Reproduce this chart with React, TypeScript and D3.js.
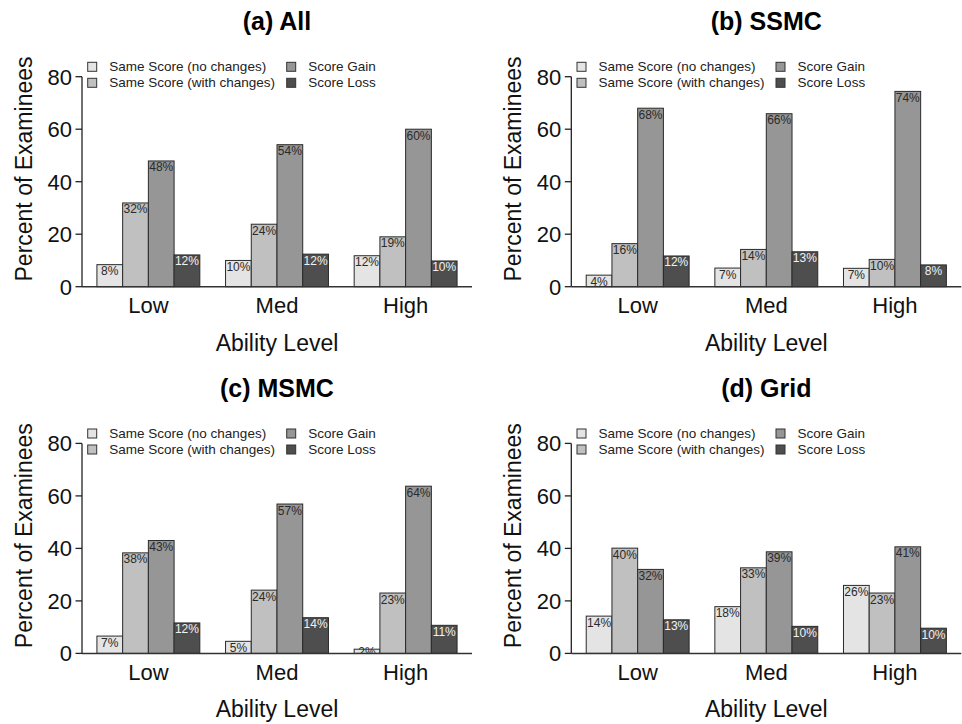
import React from "react";
import * as d3 from "d3";

const categories = ["Low", "Med", "High"];
const seriesKeys = ["noChanges", "withChanges", "gain", "loss"];
const seriesNames = [
  "Same Score (no changes)",
  "Same Score (with changes)",
  "Score Gain",
  "Score Loss",
];
const seriesColors = ["#e4e4e4", "#c0c0c0", "#969696", "#4e4e4e"];
const labelColors = ["#2a2a2a", "#2a2a2a", "#2a2a2a", "#f2f2f2"];
const yTicks = [0, 20, 40, 60, 80];

// (a) All
const allNoChanges = [8.4, 10.0, 11.8];
const allWithChanges = [31.9, 23.8, 19.0];
const allGain = [47.9, 54.1, 60.0];
const allLoss = [12.1, 12.4, 9.8];
// (b) SSMC
const ssmcNoChanges = [4.4, 7.1, 7.0];
const ssmcWithChanges = [16.4, 14.2, 10.4];
const ssmcGain = [68.0, 65.9, 74.4];
const ssmcLoss = [11.7, 13.3, 8.3];
// (c) MSMC
const msmcNoChanges = [6.6, 4.6, 1.6];
const msmcWithChanges = [38.3, 24.1, 23.0];
const msmcGain = [43.0, 56.9, 63.7];
const msmcLoss = [11.6, 13.6, 10.7];
// (d) Grid
const gridNoChanges = [14.2, 17.8, 25.9];
const gridWithChanges = [40.1, 32.6, 23.0];
const gridGain = [32.0, 38.7, 40.6];
const gridLoss = [12.8, 10.3, 9.6];

const panelTitles = ["(a) All", "(b) SSMC", "(c) MSMC", "(d) Grid"];
const panelSeries = [
  [allNoChanges, allWithChanges, allGain, allLoss],
  [ssmcNoChanges, ssmcWithChanges, ssmcGain, ssmcLoss],
  [msmcNoChanges, msmcWithChanges, msmcGain, msmcLoss],
  [gridNoChanges, gridWithChanges, gridGain, gridLoss],
];

const FONT = "'Liberation Sans', Arial, Helvetica, sans-serif";
const offsets = [
  [0, 0],
  [489.3, 0],
  [0, 366.7],
  [489.3, 366.7],
];

const AX = 82;
const AX_END = 472;
const Y0 = 286.7;
const Y80 = 76.7;

function Panel({ idx }: { idx: number }) {
  const [dx, dy] = offsets[idx];
  const series = panelSeries[idx];
  const y = d3.scaleLinear().domain([0, 80]).range([Y0, Y80]);
  const x0 = d3
    .scaleBand<string>()
    .domain(categories)
    .range([AX, AX_END])
    .paddingInner(0.2)
    .paddingOuter(0.116);
  const x1 = d3
    .scaleBand<string>()
    .domain(seriesKeys)
    .range([0, x0.bandwidth()]);
  const clipId = `clip-${idx}`;
  const legendPos = [
    [87.7, 62.3, 109.3, 71.4],
    [87.7, 78.3, 109.3, 87.4],
    [286.7, 62.3, 308.3, 71.4],
    [286.7, 78.3, 308.3, 87.4],
  ];
  return (
    <g transform={`translate(${dx},${dy})`}>
      <defs>
        <clipPath id={clipId}>
          <rect x={AX} y={0} width={AX_END - AX + 5} height={Y0} />
        </clipPath>
      </defs>
      <text
        x={(AX + AX_END) / 2}
        y={30}
        textAnchor="middle"
        fontFamily={FONT}
        fontWeight="bold"
        fontSize={25}
        fill="#000"
      >
        {panelTitles[idx]}
      </text>
      {/* legend */}
      {seriesNames.map((name, i) => {
        const [sx, sy, tx, ty] = legendPos[i];
        return (
          <g key={name}>
            <rect
              x={sx}
              y={sy}
              width={9}
              height={9}
              fill={seriesColors[i]}
              stroke="#333"
              strokeWidth={1}
            />
            <text x={tx} y={ty} fontFamily={FONT} fontSize={13.5} fill="#222">
              {name}
            </text>
          </g>
        );
      })}
      {/* bars */}
      {categories.map((c, ci) => (
        <g key={c} transform={`translate(${x0(c)},0)`}>
          {seriesKeys.map((k, si) => {
            const v = series[si][ci];
            const top = y(v);
            return (
              <rect
                key={k}
                x={x1(k)}
                y={top}
                width={x1.bandwidth()}
                height={Y0 - top}
                fill={seriesColors[si]}
                stroke="#2a2a2a"
                strokeWidth={1}
              />
            );
          })}
        </g>
      ))}
      <g clipPath={`url(#${clipId})`}>
        {categories.map((c, ci) =>
          seriesKeys.map((k, si) => {
            const v = series[si][ci];
            const top = y(v);
            const cx = (x0(c) as number) + (x1(k) as number) + x1.bandwidth() / 2;
            return (
              <text
                key={c + k}
                x={cx}
                y={Math.min(top + 10.5, Y0 + 3)}
                textAnchor="middle"
                fontFamily={FONT}
                fontSize={12}
                fill={labelColors[si]}
              >
                {`${Math.round(v)}%`}
              </text>
            );
          })
        )}
      </g>
      {/* axes */}
      <line x1={AX} x2={AX} y1={Y0} y2={Y80} stroke="#222" strokeWidth={1.3} />
      <line x1={AX} x2={AX_END} y1={Y0} y2={Y0} stroke="#333" strokeWidth={1.5} />
      {yTicks.map((t) => (
        <g key={t}>
          <line x1={AX - 6.5} x2={AX} y1={y(t)} y2={y(t)} stroke="#222" strokeWidth={1.3} />
          <text
            x={AX - 10}
            y={y(t)}
            dy="0.36em"
            textAnchor="end"
            fontFamily={FONT}
            fontSize={22}
            fill="#111"
          >
            {t}
          </text>
        </g>
      ))}
      {categories.map((c) => (
        <text
          key={c}
          x={(x0(c) as number) + x0.bandwidth() / 2}
          y={313.3}
          textAnchor="middle"
          fontFamily={FONT}
          fontSize={22}
          fill="#111"
        >
          {c}
        </text>
      ))}
      <text
        x={(x0("Med") as number) + x0.bandwidth() / 2}
        y={350.7}
        textAnchor="middle"
        fontFamily={FONT}
        fontSize={23}
        fill="#111"
      >
        Ability Level
      </text>
      <text
        transform={`translate(31.5,169) rotate(-90)`}
        textAnchor="middle"
        fontFamily={FONT}
        fontSize={23}
        fill="#111"
      >
        Percent of Examinees
      </text>
    </g>
  );
}

export default function App() {
  return (
    <svg
      width={962}
      height={724}
      style={{ position: "absolute", left: 0, top: 0, background: "#fff" }}
    >
      <rect width={962} height={724} fill="#fff" />
      {panelTitles.map((t, i) => (
        <Panel key={t} idx={i} />
      ))}
    </svg>
  );
}
